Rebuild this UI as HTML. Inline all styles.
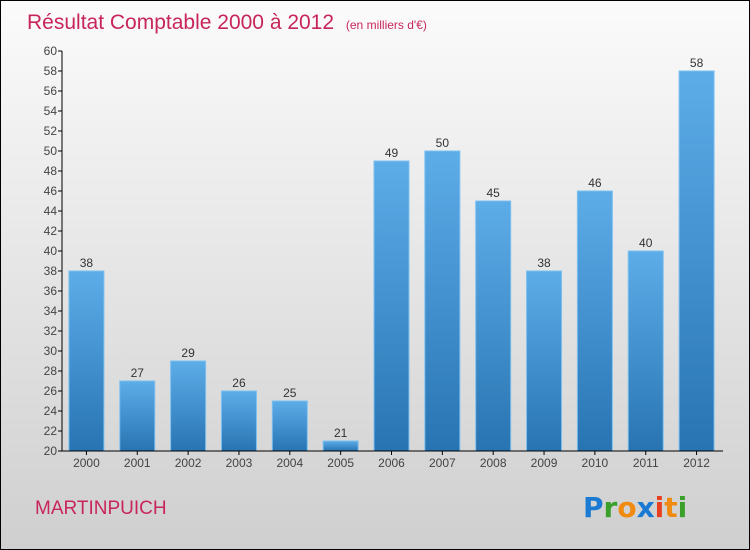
<!DOCTYPE html>
<html><head><meta charset="utf-8"><style>
body{margin:0}
#c{width:750px;height:550px;position:relative;box-sizing:border-box;border:1px solid #000;background:linear-gradient(#fbfbfb,#cfcfcf);font-family:"Liberation Sans",sans-serif;overflow:hidden}
</style></head><body>
<div id="c">
<svg width="748" height="548" id="s" style="position:absolute;left:0;top:0">
<defs><linearGradient id="bg" x1="0" y1="0" x2="0" y2="1"><stop offset="0" stop-color="#5dade9"/><stop offset="1" stop-color="#2874b2"/></linearGradient></defs>
<text x="26" y="28" font-size="21" fill="#c8265a">Résultat Comptable 2000 à 2012 <tspan font-size="12" dx="6">(en milliers d'€)</tspan></text>
<text x="34" y="513" font-size="19" fill="#c8265a">MARTINPUICH</text>
<g font-size="28" font-weight="bold" font-family="'DejaVu Sans',sans-serif"><text x="582" y="516"><tspan fill="#1a7ad4">P</tspan><tspan fill="#3aa02a">r</tspan><tspan fill="#f08a10">o</tspan><tspan fill="#1a7ad4">x</tspan><tspan fill="#e84020">i</tspan><tspan fill="#f08a10">t</tspan><tspan fill="#3aa02a">i</tspan></text></g>
<g id="plot"></g>
</svg>
</div>
<script>
const categories=["2000","2001","2002","2003","2004","2005","2006","2007","2008","2009","2010","2011","2012"];
const values=[38,27,29,26,25,21,49,50,45,38,46,40,58];
const yTicks=[20,22,24,26,28,30,32,34,36,38,40,42,44,46,48,50,52,54,56,58,60];
const NS="http://www.w3.org/2000/svg";
const g=document.getElementById('plot');
const y0=450,y1=50,vmin=20,vmax=60,xl=61,xr=722;
const ys=v=>y0-(v-vmin)/(vmax-vmin)*(y0-y1);
const step=(xr-xl)/categories.length;
const xs=i=>xl+step*(i+0.5)-1;
function el(t,a){const e=document.createElementNS(NS,t);for(const k in a)e.setAttribute(k,a[k]);g.appendChild(e);return e;}
yTicks.forEach(v=>{
 const l=el('line',{x1:xl-4,x2:xl,y1:ys(v),y2:ys(v),stroke:'#000'});
 
 
 const t=el('text',{x:xl-5,y:ys(v)+4,'text-anchor':'end','font-size':12,fill:'#444'});
 t.textContent=v;
 
 
});
values.forEach((v,i)=>{
 const cx=xs(i);
 const r=el('rect',{x:cx-17.5,y:ys(v),width:35,height:y0-ys(v),fill:'url(#bg)',stroke:'#7cc0f0','stroke-width':1});
 
 
 const t=el('text',{x:cx,y:ys(v)-4,'text-anchor':'middle','font-size':12,fill:'#333'});
 t.textContent=v;
 
 
 const tk=el('line',{x1:cx,x2:cx,y1:y0,y2:y0+4,stroke:'#000'});
 
 
 const c=el('text',{x:cx,y:y0+16,'text-anchor':'middle','font-size':12,fill:'#444'});
 c.textContent=categories[i];
 
 
});
const ya=el('line',{x1:xl,x2:xl,y1:y1,y2:y0,stroke:'#000'});


const xa=el('line',{x1:xl,x2:xr,y1:y0,y2:y0,stroke:'#000'});


</script>
</body></html>
